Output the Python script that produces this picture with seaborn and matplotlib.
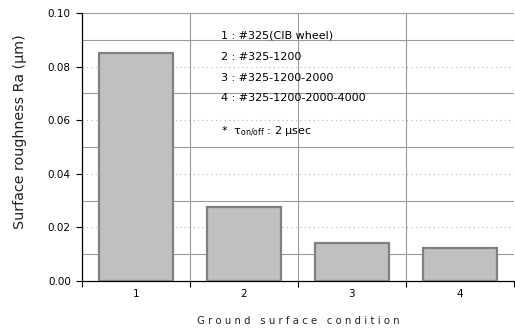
import matplotlib
matplotlib.use("Agg")
import matplotlib.pyplot as plt
from matplotlib.ticker import MultipleLocator, FixedLocator, NullFormatter
import pandas as pd
import seaborn as sns

# data
conditions = ["1", "2", "3", "4"]
roughness = [0.085, 0.0277, 0.0142, 0.0122]
legend_lines = ["1 : #325(CIB wheel)", "2 : #325-1200", "3 : #325-1200-2000",
                "4 : #325-1200-2000-4000"]
note_line = r"*  τ$_{\rm on/off}$ : 2 μsec"

df = pd.DataFrame({"cond": conditions, "ra": roughness})

sns.set_style("white")
plt.rcParams["font.family"] = ["DejaVu Sans"]
plt.rcParams["mathtext.fontset"] = "dejavusans"
plt.rcParams["text.color"] = "black"
plt.rcParams["axes.labelcolor"] = "#222222"
plt.rcParams["xtick.color"] = "black"
plt.rcParams["ytick.color"] = "black"

fig = plt.figure(figsize=(5.15, 3.3), dpi=100)
ax = fig.add_axes([0.159, 0.1485, 0.839, 0.8121])

sns.barplot(data=df, x="cond", y="ra", color="#c0c0c0", width=0.68,
            edgecolor="#808080", linewidth=1.6, saturation=1, ax=ax, zorder=3)

ax.set_xlim(-0.5, 3.5)
ax.set_ylim(0, 0.10)

# gridlines: solid at minor y ticks, dotted at major y ticks, solid at category borders
ax.yaxis.set_major_locator(MultipleLocator(0.02))
ax.yaxis.set_minor_locator(FixedLocator([0.01, 0.03, 0.05, 0.07, 0.09]))
ax.yaxis.set_major_formatter(plt.FuncFormatter(lambda v, p: f"{v:.2f}"))
for yv in [0.01, 0.03, 0.05, 0.07, 0.09, 0.10]:
    ax.axhline(yv, color="#9a9a9a", lw=0.8, zorder=1)
for yv in [0.02, 0.04, 0.06, 0.08]:
    ax.axhline(yv, color="#b8b8b8", lw=0.8, ls=(0, (1, 3)), zorder=1)
for xv in [0.5, 1.5, 2.5]:
    ax.axvline(xv, color="#9a9a9a", lw=0.8, zorder=1)

ax.xaxis.set_major_locator(FixedLocator([-0.5, 0.5, 1.5, 2.5, 3.5]))
ax.xaxis.set_major_formatter(NullFormatter())
ax.xaxis.set_minor_locator(FixedLocator([0, 1, 2, 3]))
ax.set_xticklabels(conditions, minor=True)
ax.tick_params(axis="x", which="major", direction="out", length=4, width=0.8, color="black")
ax.tick_params(axis="x", which="minor", length=0, labelsize=7.5, pad=6)
ax.tick_params(axis="y", which="major", direction="out", length=4, width=0.8,
               color="black", labelsize=7.5, pad=4)
ax.tick_params(axis="y", which="minor", length=0)
ax.tick_params(left=True, bottom=True)

for side in ["top", "right"]:
    ax.spines[side].set_visible(False)
for side in ["left", "bottom"]:
    ax.spines[side].set_color("black")
    ax.spines[side].set_linewidth(0.9)

ax.set_xlabel("G r o u n d   s u r f a c e   c o n d i t i o n", fontsize=7.3, labelpad=12)
ax.set_ylabel("Surface roughness Ra (μm)", fontsize=10.3)
ax.yaxis.set_label_coords(-0.127, 0.558)

ys = [0.0915, 0.0837, 0.0759, 0.0682]
for txt, yv in zip(legend_lines, ys):
    ax.text(0.79, yv, txt, fontsize=8, va="center", ha="left", zorder=4)
ax.text(0.79, 0.0557, note_line, fontsize=8, va="center", ha="left", zorder=4)

fig.savefig("out.png", dpi=100)
